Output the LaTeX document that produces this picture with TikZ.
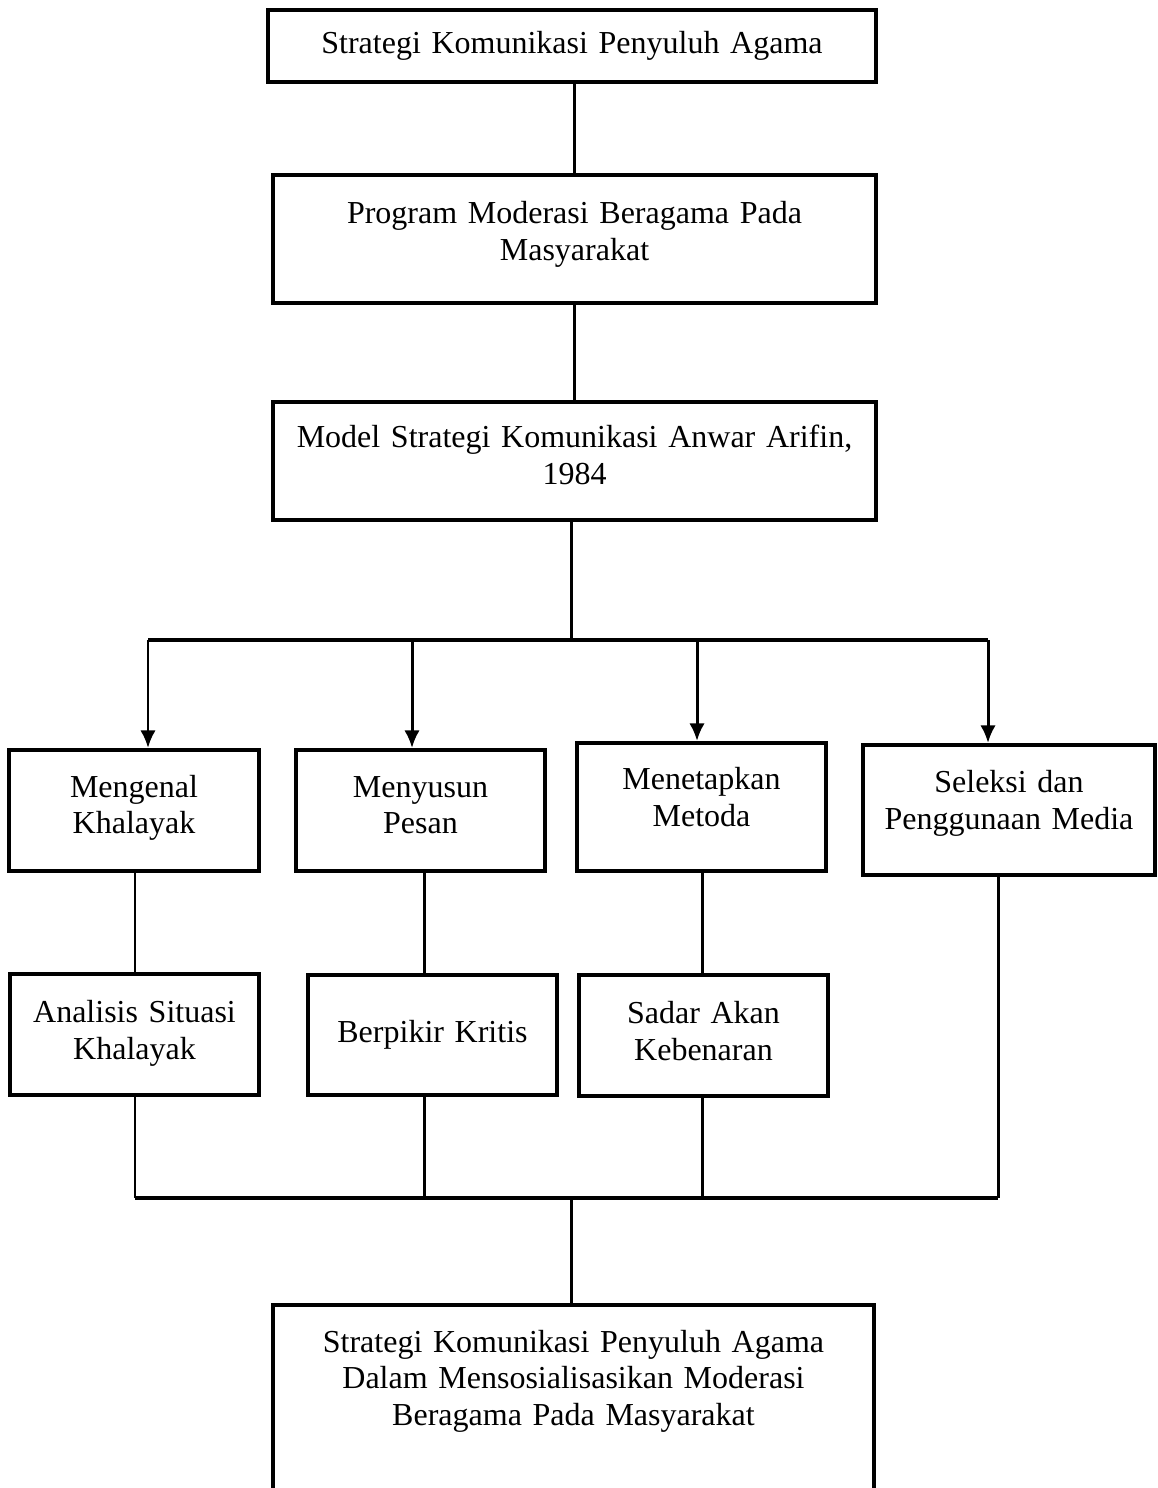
\documentclass[tikz,border=0pt]{standalone}
\usepackage{fontspec}
\setmainfont{Liberation Serif}
\usetikzlibrary{arrows.meta}

\begin{document}
\begin{tikzpicture}[x=0.01cm,y=-0.01cm,
                    box node/.style={draw,line width=1.15pt,align=center,inner sep=0pt,
                                     text height=0.22cm,
                                     font=\fontsize{9.1}{10.5}\selectfont},
                    link/.style={line width=0.85pt},
                    bus/.style={line width=1.3pt},
                    down arrow/.style={line width=0.85pt,-{Latex[length=5pt,width=4.4pt]}}]
        \useasboundingbox (0,0) rectangle (1157,1488);

        % Define boxes
        \node[box node,text width=6.08cm,minimum height=0.72cm,text depth=0.07cm] (s1) at (572,46)
            {Strategi Komunikasi Penyuluh Agama};
        \node[box node,text width=6.03cm,minimum height=1.28cm,text depth=0.53cm] (prog) at (574.5,239)
            {Program Moderasi Beragama Pada\\Masyarakat};
        \node[box node,text width=6.03cm,minimum height=1.18cm,text depth=0.48cm] (model) at (574.5,461)
            {Model Strategi Komunikasi Anwar Arifin,\\1984};

        \node[box node,text width=2.50cm,minimum height=1.21cm,text depth=0.49cm] (kenal) at (134,810.5)
            {Mengenal\\Khalayak};
        \node[box node,text width=2.49cm,minimum height=1.21cm,text depth=0.49cm] (susun) at (420.5,810.5)
            {Menyusun\\Pesan};
        \node[box node,text width=2.49cm,minimum height=1.28cm,text depth=0.56cm] (tetap) at (701.5,807)
            {Menetapkan\\Metoda};
        \node[box node,text width=2.92cm,minimum height=1.30cm,text depth=0.57cm] (seleksi) at (1009,810)
            {Seleksi dan\\Penggunaan Media};

        \node[box node,text width=2.49cm,minimum height=1.21cm,text depth=0.46cm] (analisis) at (134.5,1034.5)
            {Analisis Situasi\\Khalayak};
        \node[box node,text width=2.49cm,minimum height=1.20cm,text depth=0.07cm] (pikir) at (432.5,1035)
            {Berpikir Kritis};
        \node[box node,text width=2.49cm,minimum height=1.21cm,text depth=0.46cm] (sadar) at (703.5,1035.5)
            {Sadar Akan\\Kebenaran};

        \node[box node,text width=6.01cm,anchor=north,text height=0.47cm,text depth=1.71cm] (fin) at (573.5,1303)
            {Strategi Komunikasi Penyuluh Agama\\Dalam Mensosialisasikan Moderasi\\Beragama Pada Masyarakat};

        % Branch points
        \coordinate (cabang) at (571,640);
        \coordinate (a1) at (148,640);
        \coordinate (a2) at (412,640);
        \coordinate (a3) at (697,640);
        \coordinate (a4) at (988,640);
        \coordinate (gabung) at (571,1198);
        \coordinate (b1) at (135,1198);
        \coordinate (b2) at (424,1198);
        \coordinate (b3) at (702,1198);
        \coordinate (b4) at (998,1198);

        % Connect
        \draw[link] (prog.north) -- (prog.north |- s1.south);
        \draw[link] (prog) -- (model);
        \draw[link] (cabang |- model.south) -- (cabang);
        \draw[bus] (a1) -- (a4);
        \draw[down arrow] (a1) -- (a1 |- kenal.north);
        \draw[down arrow] (a2) -- (a2 |- susun.north);
        \draw[down arrow] (a3) -- (a3 |- tetap.north);
        \draw[down arrow] (a4) -- (a4 |- seleksi.north);

        \draw[link] (b1 |- kenal.south) -- (b1 |- analisis.north);
        \draw[link] (b2 |- susun.south) -- (b2 |- pikir.north);
        \draw[link] (b3 |- tetap.south) -- (b3 |- sadar.north);

        \draw[link] (b1 |- analisis.south) -- (b1);
        \draw[link] (b2 |- pikir.south) -- (b2);
        \draw[link] (b3 |- sadar.south) -- (b3);
        \draw[link] (b4 |- seleksi.south) -- (b4);
        \draw[bus] (b1) -- (b4);
        \draw[link] (gabung) -- (gabung |- fin.north);
\end{tikzpicture}
\end{document}
